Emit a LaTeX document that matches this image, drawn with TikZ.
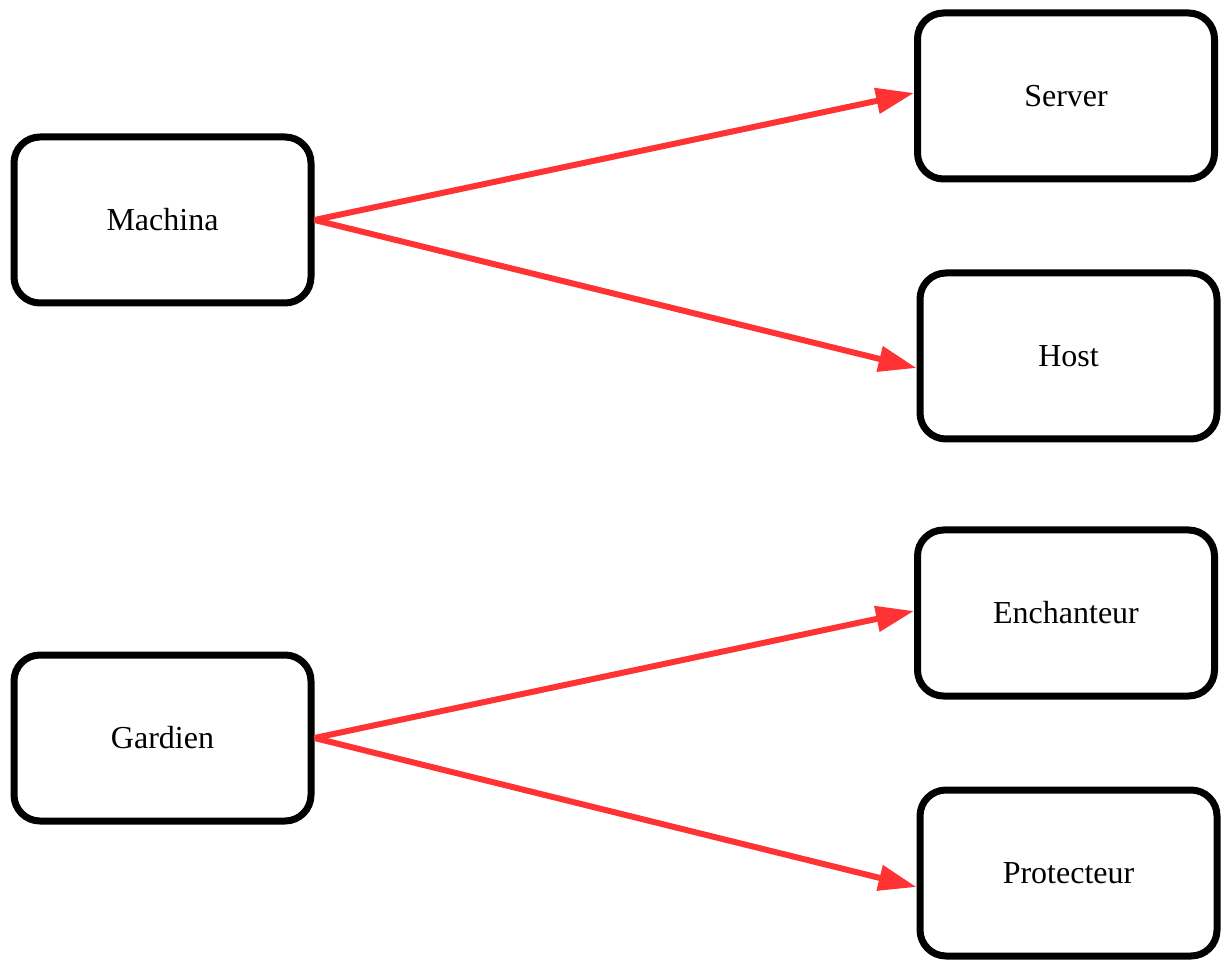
\documentclass[tikz,border=0pt]{standalone}
\usepackage{fontspec}
\setmainfont{Liberation Serif}
\usetikzlibrary{arrows.meta}
\definecolor{edgered}{HTML}{FF3333}
\begin{document}
\begin{tikzpicture}[x=1pt,y=1pt,
  box/.style={draw=black, line width=7pt, rounded corners=26pt, fill=white,
    minimum width=297pt, minimum height=166pt, inner sep=0pt,
    font=\fontsize{32}{38}\selectfont},
  edge/.style={draw=edgered, line width=6pt,
    -{Triangle[length=38pt,width=25pt]}, shorten >=0pt}]
\useasboundingbox (0,0) rectangle (1222,959);
\node[box] (Machina) at (162.5,739) {Machina};
\node[box] (Gardien) at (162.5,221) {Gardien};
\node[box] (Server) at (1066,863) {Server};
\node[box] (Host) at (1068.5,603) {Host};
\node[box] (Enchanteur) at (1066,346) {Enchanteur};
\node[box] (Protecteur) at (1068.5,86) {Protecteur};
\draw[edge] (Machina.east) -- ([yshift=3pt]Server.west);
\draw[edge] (Machina.east) -- ([yshift=-12pt]Host.west);
\draw[edge] (Gardien.east) -- ([yshift=2pt]Enchanteur.west);
\draw[edge] (Gardien.east) -- ([yshift=-14pt]Protecteur.west);
\end{tikzpicture}
\end{document}
